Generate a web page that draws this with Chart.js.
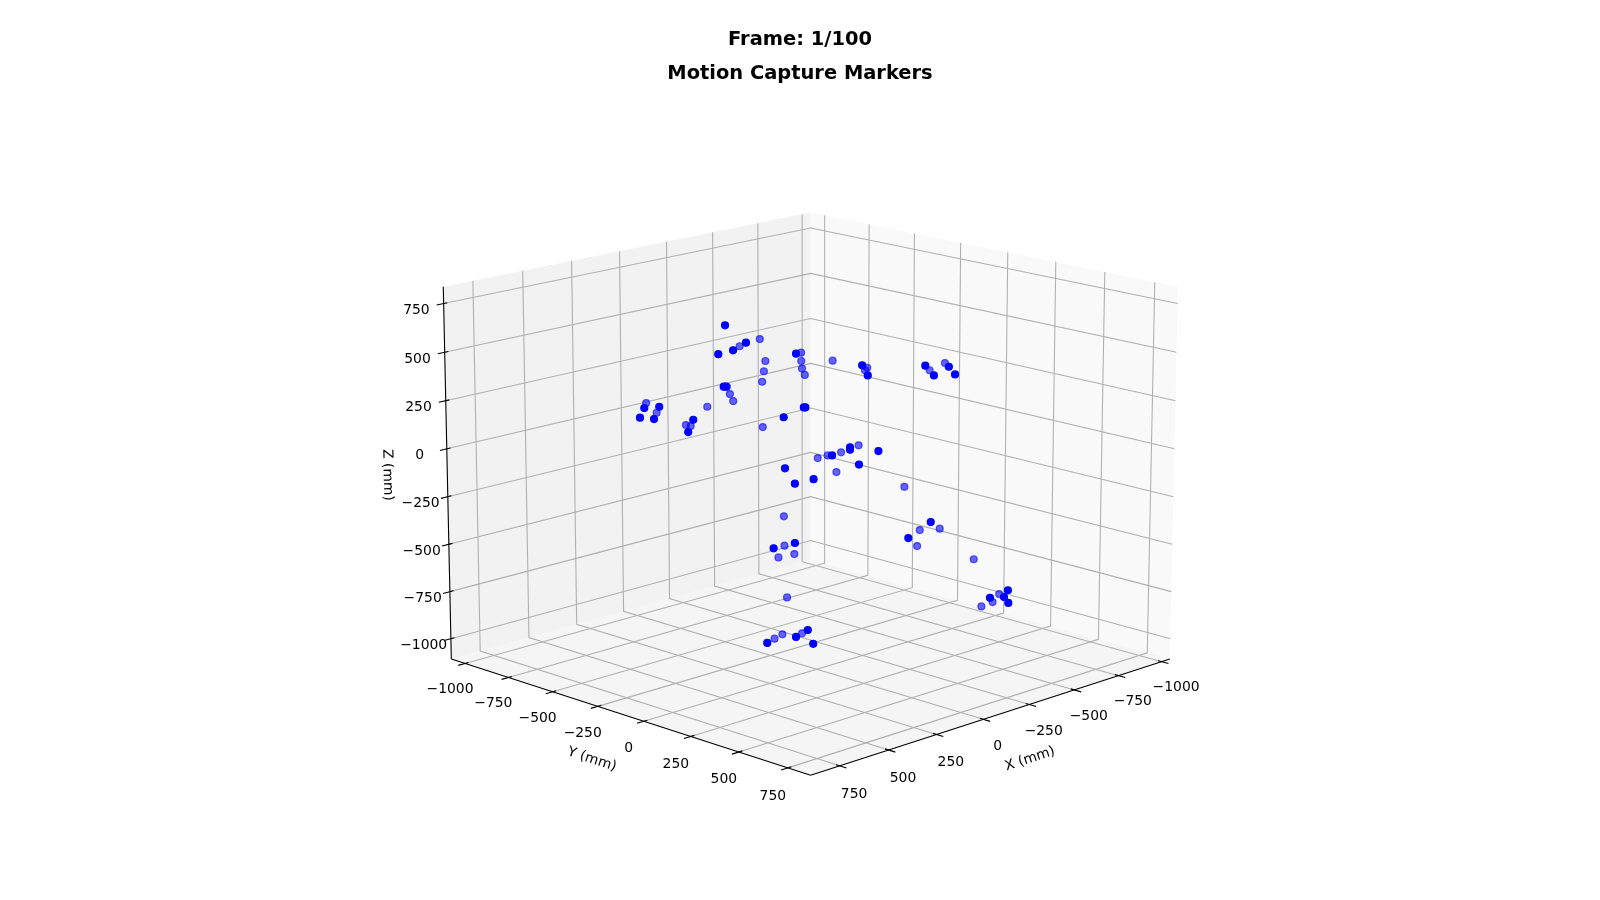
<!DOCTYPE html>
<html>
<head>
<meta charset="utf-8">
<title>Motion Capture Markers</title>
<style>
    html, body { margin: 0; padding: 0; background: #fff; }
    canvas { display: block; }
</style>
<script src="https://cdn.jsdelivr.net/npm/chart.js@4"></script>
</head>
<body>
<canvas id="grafico" width="1600" height="900"></canvas>
<script>
// Markers in mm. Depth can't be read off a single view, so each marker
// sits on the plane through the middle of the box, facing the camera.
const solidX = [49, 5, 45, 87, -121, 95, 90, -105, -109, 282, 323, 341, 304, 200, 222, -44, -290, -298, -459, -475, -521, -532, -147, -201, -199, -274, -213, -81, -365, -294, -524, -471, -509, -516, -12, -28, 13, 74, 39, 75, 156, 34];
const solidY = [-441, -373, -402, -439, -231, -402, -396, -173, -169, -560, -599, -604, -566, -460, -465, -220, -46, -24, 123, 153, 187, 209, -64, -22, -20, 57, 14, -97, 246, 197, 500, 457, 494, 510, -181, -144, -103, -156, -8, -35, -108, 16];
const solidZ = [593, 508, 471, 452, 455, 294, 294, 193, 193, 196, 190, 143, 136, 133, 73, 145, 398, 349, 396, 349, 391, 354, -41, -2, -13, -20, -86, -157, -366, -444, -698, -735, -731, -760, -104, -179, -468, -494, -892, -926, -955, -959];

const fadedX = [-34, 25, -135, -130, -34, -23, -127, -130, -11, 87, 84, 80, 153, 314, 293, 223, 211, 19, -214, -302, -294, -467, -513, -107, -135, -173, -225, -147, -319, -384, -330, -312, -454, -498, -475, -442, 24, 43, 67, 22, 72, 57, 110, 134];
const fadedY = [-338, -387, -218, -212, -308, -305, -205, -193, -302, -393, -380, -366, -432, -598, -563, -476, -463, -269, -128, -31, -35, 138, 174, -101, -76, -42, 0, -41, 151, 275, 222, 226, 387, 479, 467, 440, -151, -129, -137, -97, -86, -21, -73, -91];
const fadedZ = [526, 491, 460, 419, 419, 369, 382, 351, 318, 294, 258, 224, 196, 214, 167, 107, 102, 97, 421, 386, 374, 374, 409, -54, -41, -26, 8, -122, -194, -398, -405, -483, -547, -717, -756, -777, -338, -481, -538, -522, -733, -908, -913, -934];

const tickValues = [-1000, -750, -500, -250, 0, 250, 500, 750];
const tickLabels = ['\u22121000', '\u2212750', '\u2212500', '\u2212250', '0', '250', '500', '750'];

const xLim = [-1048, 896];
const yLim = [-1080, 864];
const zLim = [-1108.5, 835.5];

// camera of the view: elev 15, azim 45, box 4:4:3, distance 10
const elev = 15 * Math.PI / 180;
const azim = 45 * Math.PI / 180;
const halfXY = 4 / 7;
const halfZ = 3 / 7;
const dist = 10;

const pxPerUnit = 4495;
const centerX = 810.6;
const centerY = 475;
const titleH = 91.14;

function project(x, y, z) {
    const dx = (x - (xLim[0] + xLim[1]) / 2) / (xLim[1] - xLim[0]) * 2 * halfXY;
    const dy = (y - (yLim[0] + yLim[1]) / 2) / (yLim[1] - yLim[0]) * 2 * halfXY;
    const dz = (z - (zLim[0] + zLim[1]) / 2) / (zLim[1] - zLim[0]) * 2 * halfZ;
    const right = -Math.sin(azim) * dx + Math.cos(azim) * dy;
    const up = -Math.sin(elev) * Math.cos(azim) * dx - Math.sin(elev) * Math.sin(azim) * dy + Math.cos(elev) * dz;
    const toEye = Math.cos(elev) * Math.cos(azim) * dx + Math.cos(elev) * Math.sin(azim) * dy + Math.sin(elev) * dz;
    return { x: right / (dist - toEye), y: up / (dist - toEye) };
}

function puntos(xs, ys, zs) {
    return xs.map((x, i) => project(x, ys[i], zs[i]));
}

function pane(corners, color) {
    return {
        data: corners.map(c => project(c[0], c[1], c[2])),
        showLine: true,
        fill: 'shape',
        backgroundColor: color,
        borderColor: color,
        borderWidth: 0,
        pointRadius: 0,
        order: 4
    };
}

function linea(corners, color, order) {
    return {
        data: corners.map(c => project(c[0], c[1], c[2])),
        showLine: true,
        fill: false,
        borderColor: color,
        borderWidth: 1.1,
        pointRadius: 0,
        order: order
    };
}

const [x0, x1] = xLim;
const [y0, y1] = yLim;
const [z0, z1] = zLim;
const tickOut = 34;
const tickIn = 18;

const datasets = [
    pane([[x0, y0, z0], [x1, y0, z0], [x1, y0, z1], [x0, y0, z1]], '#f2f2f2'),
    pane([[x0, y0, z0], [x0, y1, z0], [x0, y1, z1], [x0, y0, z1]], '#f9f9f9'),
    pane([[x0, y0, z0], [x1, y0, z0], [x1, y1, z0], [x0, y1, z0]], '#f5f5f5'),
    linea([[x1, y0, z0], [x1, y1, z0]], '#000', 1),
    linea([[x1, y1, z0], [x0, y1, z0]], '#000', 1),
    linea([[x1, y0, z0], [x1, y0, z1]], '#000', 1)
];

tickValues.forEach(v => {
    datasets.push(linea([[v, y1, z0], [v, y0, z0], [v, y0, z1]], '#b0b0b0', 3));
    datasets.push(linea([[x1, v, z0], [x0, v, z0], [x0, v, z1]], '#b0b0b0', 3));
    datasets.push(linea([[x1, y0, v], [x0, y0, v], [x0, y1, v]], '#b0b0b0', 3));
    datasets.push(linea([[v, y1 + tickOut, z0], [v, y1 - tickIn, z0]], '#000', 2));
    datasets.push(linea([[x1 + tickOut, v, z0], [x1 - tickIn, v, z0]], '#000', 2));
    datasets.push(linea([[x1 + tickOut, y0, v], [x1 - tickIn, y0, v]], '#000', 2));
});

datasets.push({
    label: 'Markers',
    data: puntos(fadedX, fadedY, fadedZ),
    backgroundColor: 'rgba(0, 0, 255, 0.6)',
    borderColor: 'rgba(0, 0, 255, 0.6)',
    borderWidth: 1.2,
    pointRadius: 3.5,
    order: 0
});
datasets.push({
    label: 'Markers',
    data: puntos(solidX, solidY, solidZ),
    backgroundColor: '#0000ff',
    borderColor: '#0000ff',
    borderWidth: 1.2,
    pointRadius: 3.5,
    order: 0
});

// tick labels and axis titles: matplotlib-like text hung on the 3D axes
const textos3d = {
    id: 'textos3d',
    afterDatasetsDraw(chart) {
        const ctx = chart.ctx;
        const sx = chart.scales.x;
        const sy = chart.scales.y;
        const at = (x, y, z) => {
            const p = project(x, y, z);
            return [sx.getPixelForValue(p.x), sy.getPixelForValue(p.y)];
        };
        ctx.save();
        ctx.fillStyle = '#000';
        ctx.font = '13.9px "DejaVu Sans"';
        ctx.textAlign = 'center';
        ctx.textBaseline = 'middle';
        tickValues.forEach((v, i) => {
            const t = i / (tickValues.length - 1);
            let p = at(v, y1, z0);
            ctx.fillText(tickLabels[i], p[0] + 14.4, p[1] + 25.3 + 3.2 * t);
            p = at(x1, v, z0);
            ctx.fillText(tickLabels[i], p[0] - 15, p[1] + 25.8 + 2.3 * t);
            p = at(x1, y0, v);
            ctx.fillText(tickLabels[i], p[0] - 27.2, p[1] + 6.8);
        });
        const titulo = (text, px, py, deg) => {
            ctx.save();
            ctx.translate(px, py);
            ctx.rotate(deg * Math.PI / 180);
            ctx.fillText(text, 0, 0);
            ctx.restore();
        };
        let p = at(x0 + 1050, y1, z0);
        titulo('X (mm)', p[0] + 47, p[1] + 39.5, -18);
        p = at(x1, y0 + 1000, z0);
        titulo('Y (mm)', p[0] - 37, p[1] + 43, 18);
        p = at(x1, y0, (z0 + z1) / 2);
        titulo('Z (mm)', p[0] - 60, p[1], 88.7);
        ctx.restore();
    }
};

new Chart(document.getElementById('grafico').getContext('2d'), {
    type: 'scatter',
    data: { datasets: datasets },
    plugins: [textos3d],
    options: {
        responsive: false,
        animation: false,
        layout: { autoPadding: false },
        plugins: {
            legend: { display: false },
            tooltip: { enabled: false },
            title: {
                display: true,
                text: ['Frame: 1/100', 'Motion Capture Markers'],
                color: '#000',
                font: { family: '"DejaVu Sans"', size: 19.44, weight: 'bold', lineHeight: 1.75 },
                padding: { top: 23.1, bottom: 0 }
            }
        },
        scales: {
            x: {
                display: false,
                bounds: 'data',
                min: -centerX / pxPerUnit,
                max: (1600 - centerX) / pxPerUnit
            },
            y: {
                display: false,
                bounds: 'data',
                min: (centerY - 900) / pxPerUnit,
                max: (centerY - titleH) / pxPerUnit
            }
        }
    }
});
</script>
</body>
</html>
